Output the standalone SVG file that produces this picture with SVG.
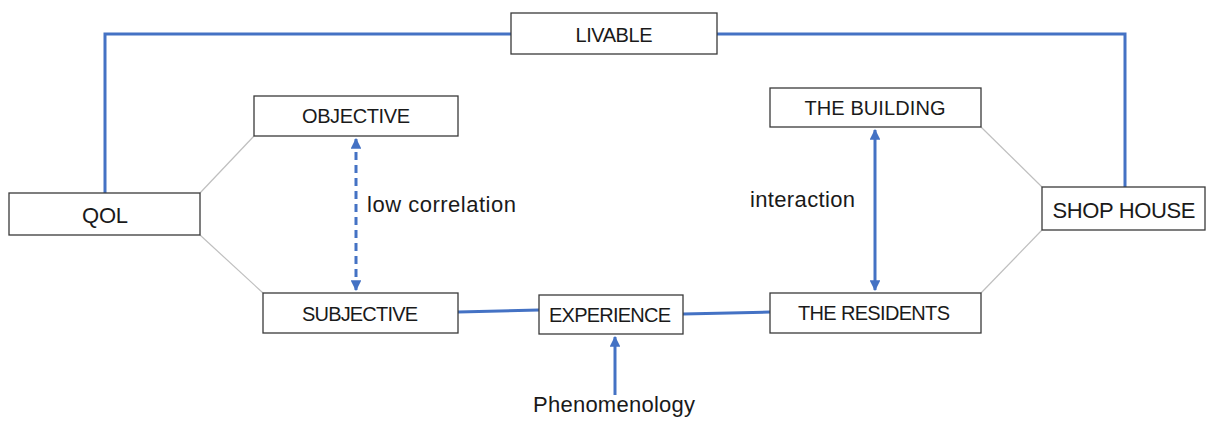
<svg xmlns="http://www.w3.org/2000/svg" width="1206" height="421" viewBox="0 0 1206 421">
<style>
.box{fill:#fff;stroke:#3a3a3a;stroke-width:1.3}
.t{font-family:"Liberation Sans",Arial,sans-serif;font-size:20px;fill:#1a1a1a;text-anchor:middle}
.big{font-size:22px}
.lbl{font-family:"Liberation Sans",Arial,sans-serif;font-size:22px;fill:#1a1a1a}
.blue{stroke:#4472C4;stroke-width:3;fill:none}
.gray{stroke:#BFBFBF;stroke-width:1.2;fill:none}
</style>
<defs>
<marker id="ah" viewBox="0 0 10 10" refX="9" refY="5" markerWidth="3.6" markerHeight="3.6" orient="auto-start-reverse" markerUnits="strokeWidth">
<path d="M0,0 L10,5 L0,10 z" fill="#4472C4"/>
</marker>
</defs>
<g id="connectors">
<polyline class="blue" points="105,193 105,34 511,34"/>
<polyline class="blue" points="717,34 1125,34 1125,187"/>
<line class="gray" x1="200" y1="193" x2="254" y2="136"/>
<line class="gray" x1="200" y1="235" x2="263" y2="293"/>
<line class="gray" x1="981" y1="127" x2="1042" y2="187"/>
<line class="gray" x1="981" y1="293" x2="1042" y2="230"/>
<line class="blue" x1="356" y1="139" x2="356" y2="290" stroke-dasharray="8,5" marker-start="url(#ah)" marker-end="url(#ah)"/>
<line class="blue" x1="875" y1="130" x2="875" y2="290" stroke-width="2.6" marker-start="url(#ah)" marker-end="url(#ah)"/>
<line class="blue" x1="458" y1="312" x2="539" y2="310"/>
<line class="blue" x1="683" y1="314" x2="770" y2="312"/>
<line class="blue" x1="615" y1="395" x2="615" y2="337" marker-end="url(#ah)"/>
</g>
<g id="livable"><rect class="box" x="511" y="13" width="206" height="41"/><text class="t" x="614" y="42" textLength="77">LIVABLE</text></g>
<g id="objective"><rect class="box" x="254" y="96" width="204" height="40"/><text class="t" x="356" y="123" textLength="108">OBJECTIVE</text></g>
<g id="qol"><rect class="box" x="9" y="193" width="191" height="42"/><text class="t big" x="105" y="223" textLength="46">QOL</text></g>
<g id="subjective"><rect class="box" x="263" y="293" width="195" height="40"/><text class="t" x="360" y="321" textLength="116">SUBJECTIVE</text></g>
<g id="experience"><rect class="box" x="539" y="295" width="144" height="39"/><text class="t" x="610" y="322" textLength="122">EXPERIENCE</text></g>
<g id="residents"><rect class="box" x="770" y="293" width="211" height="40"/><text class="t" x="874" y="320" textLength="152">THE RESIDENTS</text></g>
<g id="building"><rect class="box" x="770" y="88" width="211" height="39"/><text class="t" x="875" y="115" textLength="141">THE BUILDING</text></g>
<g id="shophouse"><rect class="box" x="1042" y="187" width="163" height="43"/><text class="t big" x="1124" y="218" textLength="143">SHOP HOUSE</text></g>
<g id="labels">
<text class="lbl" x="367" y="212" textLength="149">low correlation</text>
<text class="lbl" x="750" y="207" textLength="105">interaction</text>
<text class="lbl" x="533" y="412" textLength="162">Phenomenology</text>
</g>
</svg>
